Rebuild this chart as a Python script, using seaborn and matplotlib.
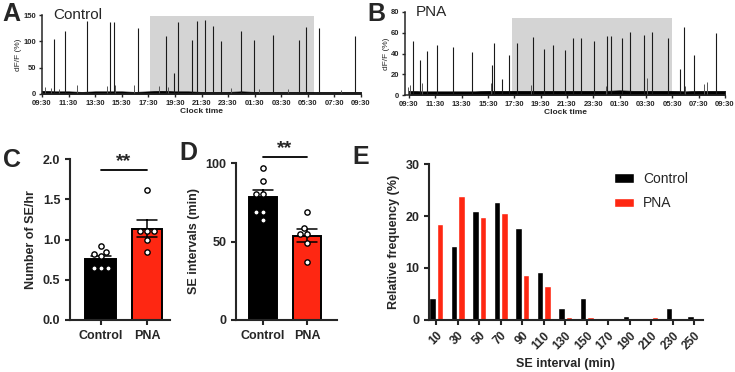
import numpy as np
import pandas as pd
import seaborn as sns
import matplotlib.pyplot as plt

sns.set_theme(style="ticks")
plt.rcParams['font.family'] = ['Liberation Sans', 'DejaVu Sans']
plt.rcParams['axes.linewidth'] = 1.5

RED = '#fe2712'

# ---- data ----
clock_labels = ['09:30', '11:30', '13:30', '15:30', '17:30', '19:30', '21:30',
                '23:30', '01:30', '03:30', '05:30', '07:30', '09:30']

# Control trace: spike times (h after 09:30) and peak dF/F (%)
ctl_spike_t = [0.93, 1.76, 3.42, 5.10, 5.38, 7.20, 9.30, 9.90, 10.20, 11.25, 11.65,
               12.30, 12.85, 13.43, 15.00, 15.95, 17.36, 19.30, 19.87, 20.85, 23.57]
ctl_spike_h = [105, 120, 138, 136, 136, 126, 110, 40, 136, 102, 138,
               140, 130, 100, 120, 102, 112, 102, 128, 125, 111]
ctl_small_t = [0.2, 0.7, 1.3, 2.6, 4.9, 5.5, 6.9, 8.8, 9.5, 14.2, 16.3, 18.5, 22.5]
ctl_small_h = [14, 12, 9, 18, 15, 17, 18, 16, 14, 12, 10, 9, 8]
ctl_noise = [6, 5, 5, 4, 5, 5, 5, 4, 5, 6, 5, 5, 4, 4, 4, 5, 4, 4, 4, 4, 4, 4, 4, 4, 4]
ctl_dark = (8.15, 20.5, 148)

# PNA trace
pna_spike_t = [0.30, 0.81, 1.35, 2.13, 3.38, 4.82, 6.45, 6.33, 7.10, 7.56, 8.17, 9.44,
               10.23, 10.91, 11.83, 12.49, 13.10, 14.09, 15.03, 15.38, 16.17, 16.78,
               17.82, 18.43, 19.67, 20.56, 20.91, 21.68, 23.30]
pna_spike_h = [52, 34, 42, 48, 46, 41, 50, 29, 15, 39, 50, 56,
               44, 48, 43, 55, 55, 52, 57, 57, 55, 61,
               58, 61, 55, 25, 66, 39, 60]
pna_small_t = [-0.1, 0.1, 1.0, 6.2, 9.3, 15.0, 18.07, 22.4, 22.6, 21.0]
pna_small_h = [8, 10, 12, 12, 10, 9, 16, 11, 13, 9]
pna_noise = [4, 3.5, 3.5, 3.5, 3.5, 3.5, 4, 4, 4, 4, 4, 4, 4, 4, 4, 4, 4.5, 4, 4, 4, 4, 3.5, 4, 4, 4]
pna_dark = (7.8, 20.0, 74)

# C: Number of SE/hr
c_control = [0.92, 0.84, 0.82, 0.79, 0.65, 0.65, 0.64]
c_pna = [1.62, 1.11, 1.11, 1.11, 1.00, 0.84]

# D: SE intervals (min)
d_control = [96.6, 88.7, 80.3, 80.3, 69.0, 69.0, 63.7]
d_pna = [68.6, 58.4, 54.6, 54.6, 49.3, 36.9]

# E: relative frequency (%)
e_bins = ['10', '30', '50', '70', '90', '110', '130', '150', '170', '190', '210', '230', '250']
e_control = [4.2, 14.2, 21.0, 22.7, 17.6, 9.2, 2.4, 4.2, 0, 0.8, 0, 2.4, 0.8]
e_pna = [18.5, 23.8, 19.9, 20.5, 8.6, 6.6, 0.6, 0.6, 0, 0, 0.6, 0, 0]

fig = plt.figure(figsize=(7.35, 3.72), dpi=100)


def trace_panel(rect, spike_t, spike_h, small_t, small_h, noise, dark, ymax, yticks, title, xlo):
    ax = fig.add_axes(rect)
    hrs = np.arange(len(noise))
    ax.axvspan(dark[0], dark[1], ymin=0, ymax=dark[2] / ymax, color='#d4d4d4', lw=0, zorder=0)
    ax.fill_between(hrs, 0, noise, color='black', lw=0.5, zorder=2)
    ax.vlines(small_t, 0, small_h, color='#555555', lw=0.7, zorder=2)
    ax.vlines(spike_t, 0, spike_h, color='#1a1a1a', lw=0.8, zorder=3)
    ax.set_xlim(xlo, 24)
    ax.set_ylim(0, ymax)
    ax.set_xticks(np.arange(0, 25, 2))
    ax.set_xticklabels(clock_labels, fontsize=5.5, fontweight='bold')
    ax.set_yticks(yticks)
    ax.set_yticklabels([str(v) for v in yticks], fontsize=5.5, fontweight='bold')
    ax.tick_params(length=2.5, width=1.0, pad=1.5)
    for s in ['left', 'bottom']:
        ax.spines[s].set_linewidth(1.1)
    sns.despine(ax=ax)
    ax.set_xlabel('Clock time', fontsize=6, fontweight='bold', labelpad=1)
    ax.set_ylabel('dF/F (%)', fontsize=6, labelpad=1)
    ax.text(0.035, 1.0, title, transform=ax.transAxes, fontsize=11, va='center', ha='left')
    return ax


trace_panel([42 / 735, 1 - 94 / 372, 319 / 735, 79 / 372], ctl_spike_t, ctl_spike_h,
            ctl_small_t, ctl_small_h, ctl_noise, ctl_dark, 150, [0, 50, 100, 150], 'Control', 0)
trace_panel([405 / 735, 1 - 95 / 372, 320 / 735, 83 / 372], pna_spike_t, pna_spike_h,
            pna_small_t, pna_small_h, pna_noise, pna_dark, 80, [0, 20, 40, 60, 80], 'PNA', -0.3)


def dot_bar_panel(rect, ctl, pna, ylim, yticks, ylabel, xlim, sig_y, bar_w):
    ax = fig.add_axes(rect)
    df = pd.DataFrame({'group': ['Control'] * len(ctl) + ['PNA'] * len(pna),
                       'val': ctl + pna})
    sns.barplot(data=df, x='group', y='val', hue='group', palette={'Control': 'black', 'PNA': RED},
                saturation=1, errorbar='se', capsize=0.45, width=bar_w, edgecolor='black',
                linewidth=1.4, err_kws={'color': 'black', 'linewidth': 1.1}, legend=False, ax=ax)
    sns.swarmplot(data=df, x='group', y='val', color='white', edgecolor='black', linewidth=1.0,
                  size=3.8, zorder=5, ax=ax)
    ax.set_xlim(*xlim)
    ax.set_ylim(*ylim)
    ax.set_yticks(yticks)
    ax.tick_params(length=3.5, width=1.5, labelsize=9)
    for lab in ax.get_xticklabels() + ax.get_yticklabels():
        lab.set_fontweight('bold')
    ax.set_xlabel('')
    ax.set_ylabel(ylabel, fontsize=9, fontweight='bold')
    sns.despine(ax=ax)
    ax.plot([0, 1], [sig_y, sig_y], color='black', lw=1.3, clip_on=False)
    ax.text(0.5, sig_y, '**', ha='center', va='bottom', fontsize=14, fontweight='bold')
    return ax


axC = dot_bar_panel([70 / 735, 52 / 372, 100 / 735, 161 / 372], c_control, c_pna, (0, 2),
                    [0.0, 0.5, 1.0, 1.5, 2.0], 'Number of SE/hr', (-0.67, 1.5), 1.86, 0.67)
axC.set_yticklabels(['0.0', '0.5', '1.0', '1.5', '2.0'])
dot_bar_panel([236 / 735, 52 / 372, 101 / 735, 157 / 372], d_control, d_pna, (0, 100),
              [0, 50, 100], 'SE intervals (min)', (-0.61, 1.68), 104, 0.64)

# E histogram
axE = fig.add_axes([429 / 735, 52 / 372, 274 / 735, 156 / 372])
edf = pd.DataFrame({'bin': e_bins * 2,
                    'freq': e_control + e_pna,
                    'group': ['Control'] * len(e_bins) + ['PNA'] * len(e_bins)})
sns.barplot(data=edf, x='bin', y='freq', hue='group', palette={'Control': 'black', 'PNA': RED},
            saturation=1, width=0.7, gap=0.15, ax=axE)
axE.set_xlim(-0.33, 12.4)
axE.set_ylim(0, 30)
axE.set_yticks([0, 10, 20, 30])
axE.tick_params(length=3.5, width=1.5, labelsize=9)
axE.tick_params(axis='x', labelsize=8.5)
plt.setp(axE.get_xticklabels(), rotation=45, ha='right', rotation_mode='anchor', fontweight='bold')
plt.setp(axE.get_yticklabels(), fontweight='bold')
axE.set_xlabel('SE interval (min)', fontsize=9, fontweight='bold', labelpad=4)
axE.set_ylabel('Relative frequency (%)', fontsize=9, fontweight='bold')
sns.despine(ax=axE)
axE.legend(frameon=False, loc='upper left', bbox_to_anchor=(0.63, 1.03), fontsize=10,
           handlelength=1.4, handleheight=0.65, handletextpad=0.7, labelspacing=0.75)

# panel letters
for x, y, s in [(2, 2, 'A'), (367, 2, 'B'), (3, 148, 'C'), (179, 141, 'D'), (352, 145, 'E')]:
    fig.text(x / 735, 1 - y / 372, s, fontsize=18, fontweight='bold', va='top', ha='left')

fig.savefig('out.png', dpi=100)
